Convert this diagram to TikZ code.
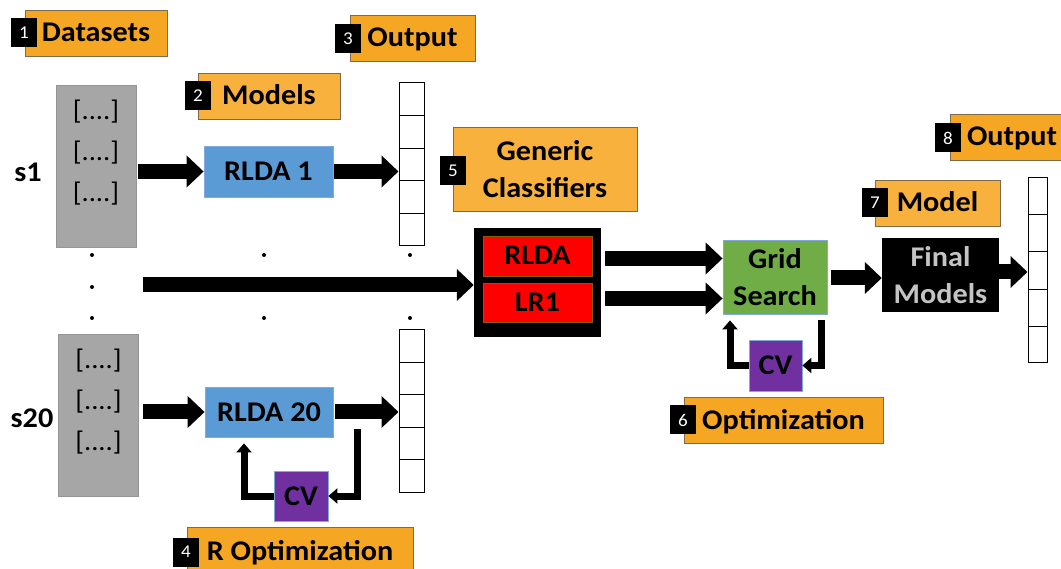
\documentclass[tikz,border=0pt]{standalone}
\usepackage{fontspec}
\setmainfont{Carlito}[FakeStretch=1.06]
\usetikzlibrary{arrows.meta,calc}

\definecolor{tagorange}{HTML}{F5A623}
\definecolor{taglight}{HTML}{F7B13C}
\definecolor{tagedge}{HTML}{7F6A4A}
\definecolor{dsgray}{HTML}{A6A6A6}
\definecolor{dsedge}{HTML}{959595}
\definecolor{modelblue}{HTML}{5B9BD5}
\definecolor{blueedge}{HTML}{7FAADB}
\definecolor{cvpurple}{HTML}{7030A0}
\definecolor{gridgreen}{HTML}{70AD47}
\definecolor{clsred}{HTML}{FF0000}
\definecolor{rededge}{HTML}{806000}
\definecolor{finaltext}{HTML}{C4C4C4}

\tikzset{
  bigfont/.style={font=\bfseries\fontsize{28.5}{37}\selectfont},
  tagbox/.style={fill=tagorange, draw=tagedge, line width=0.8pt, inner sep=0pt,
    bigfont, text height=21pt, text depth=3pt},
  taglite/.style={tagbox, fill=taglight},
  badge/.style={fill=black, text=white, minimum width=26pt, minimum height=29pt,
    inner sep=0pt, font=\fontsize{18}{19}\selectfont},
  dsbox/.style={fill=dsgray, draw=dsedge, line width=0.8pt, minimum width=80pt,
    minimum height=162pt, inner sep=0pt},
  rows/.style={font=\fontsize{27}{28}\selectfont, inner sep=0pt},
  sidelabel/.style={bigfont, inner sep=0pt},
  modelbox/.style={fill=modelblue, draw=blueedge, line width=0.8pt, minimum width=129pt,
    minimum height=51pt, inner sep=0pt, bigfont, text height=21pt, text depth=3pt},
  outcol/.style={draw=black, line width=1pt, fill=white, inner sep=0pt},
  cellline/.style={draw=black, line width=1pt},
  cvbox/.style={fill=cvpurple, draw=blueedge, line width=0.8pt, minimum width=54pt,
    minimum height=50pt, inner sep=0pt, bigfont, text height=21pt, text depth=3pt},
  redbox/.style={fill=clsred, draw=rededge, line width=0.8pt, minimum width=109pt,
    minimum height=40pt, inner sep=0pt, bigfont, text height=21pt, text depth=3pt},
  fat/.style={line width=15pt, -{Triangle[length=17pt,width=31pt]}},
  loopback/.style={line width=7pt, -{Triangle[length=9pt,width=15pt]}},
}

\begin{document}
\begin{tikzpicture}[x=1pt,y=-1pt]
\clip (0,0) rectangle (1061,569);

% ---- tag labels ----
\node[tagbox, minimum width=142pt, minimum height=46pt] (tag1) at (96,33) {Datasets};
\node[badge] (b1) at (24,33) {1};
\node[taglite, minimum width=142pt, minimum height=46pt] (tag2) at (269,96) {Models};
\node[badge] (b2) at (198,96) {2};
\node[tagbox, minimum width=125pt, minimum height=46pt] (tag3) at (412.5,38) {Output};
\node[badge] (b3) at (348,39) {3};
\node[tagbox, minimum width=226pt, minimum height=48pt] (tag4) at (300,551) {R Optimization};
\node[badge] (b4) at (186,552) {4};
\node[taglite, minimum width=184pt, minimum height=84pt, align=center,
      text height=, text depth=] (tag5) at (545,169) {Generic\\Classifiers};
\node[badge] (b5) at (453,171) {5};
\node[tagbox, minimum width=199pt, minimum height=46pt] (tag6) at (783.5,420) {Optimization};
\node[badge] (b6) at (683,420) {6};
\node[taglite, minimum width=125pt, minimum height=46pt] (tag7) at (937.5,203) {Model};
\node[badge] (b7) at (875,203) {7};
\node[tagbox, minimum width=124pt, minimum height=46pt] (tag8) at (1012,137) {Output};
\node[badge] (b8) at (948,138) {8};

% ---- datasets ----
\node[dsbox] (ds1) at (96,166) {};
\node[dsbox] (ds20) at (98.5,415) {};
\foreach \d in {ds1,ds20}{
  \node[rows] (\d r1) at ($(\d)+(0,-54)$) {[....]};
  \node[rows] (\d r2) at ($(\d)+(0,-13)$) {[....]};
  \node[rows] (\d r3) at ($(\d)+(0,28)$) {[....]};
}
\node[sidelabel] (s1) at (28,172) {s1};
\node[sidelabel] (s20) at (32,418) {s20};

% ---- per-subject models ----
\node[modelbox] (rlda1) at (268.5,171.5) {RLDA 1};
\node[modelbox, minimum width=128pt, minimum height=50pt] (rlda20) at (269,412) {RLDA 20};
\node[cvbox] (cv1) at (301,496) {CV};

% ---- output columns ----
\node[outcol, minimum width=25pt, minimum height=163pt] (out1) at (411.5,164.5) {};
\node[outcol, minimum width=25pt, minimum height=162pt] (out2) at (411.5,411) {};
\node[outcol, minimum width=19pt, minimum height=185pt] (out3) at (1037.5,270.5) {};
\foreach \c in {out1,out2,out3}
  \foreach \i in {1,...,4}
    \draw[cellline] ($(\c.north west)!\i/5!(\c.south west)$) -- ($(\c.north east)!\i/5!(\c.south east)$);

% ---- continuation dots ----
\foreach \x in {92,264,410} {
  \fill (\x,255) circle (2);
  \fill (\x,318) circle (2);
}
\fill (92,287) circle (2);

% ---- generic classifiers ----
\node[fill=black, minimum width=127pt, minimum height=109pt, inner sep=0pt] (cls) at (537.5,282.5) {};
\node[redbox] (red1) at (537.5,256) {RLDA};
\node[redbox, minimum height=39pt] (red2) at (537.5,302.5) {LR1};

% ---- grid search ----
\node[fill=gridgreen, draw=blueedge, line width=0.8pt, minimum width=104pt, minimum height=74pt,
      inner sep=0pt, bigfont, align=center] (grid) at (775,277) {Grid\\Search};
\node[cvbox, minimum width=53pt, minimum height=51pt] (cv2) at (775.5,365.5) {CV};

% ---- final models ----
\node[fill=black, text=finaltext, minimum width=117pt, minimum height=74pt, inner sep=0pt,
      bigfont, align=center] (final) at (940.5,275) {Final\\Models};

% ---- block arrows ----
\draw[fat] ($(ds1.east |- rlda1.west)+(2,0)$) -- (rlda1.west);
\draw[fat] ($(ds20.east |- rlda20.west)+(4,0)$) -- (rlda20.west);
\draw[fat] ($(rlda1.east)+(1,0)$) -- (rlda1.east -| out1.west);
\draw[fat] ($(rlda20.east)+(2,0)$) -- (rlda20.east -| out2.west);
\coordinate (lstart) at (143,285);
\draw[fat] (lstart) -- (lstart -| cls.west);
\draw[fat] ($(cls.east |- grid.west)+(4,-18.5)$) -- ($(grid.west)+(0,-18.5)$);
\draw[fat] ($(cls.east |- grid.west)+(4,21.5)$) -- ($(grid.west)+(0,21.5)$);
\draw[fat] ($(grid.east)+(4,1)$) -- ($(grid.east -| final.west)+(0,1)$);
\draw[fat] ($(final.east)+(-7,-3)$) -- ($(final.east -| out3.west)+(0,-3)$);

% ---- cross-validation loops ----
\coordinate (r20drop) at (357.5,429);
\draw[loopback] (r20drop) |- (cv1.east);
\draw[loopback] (cv1.west) -| ($(rlda20.south)+(-25,6)$);
\coordinate (gdrop) at (821.5,320);
\draw[loopback] (gdrop) |- (cv2.east);
\draw[loopback] (cv2.west) -| ($(grid.south)+(-45,6)$);
\end{tikzpicture}
\end{document}
